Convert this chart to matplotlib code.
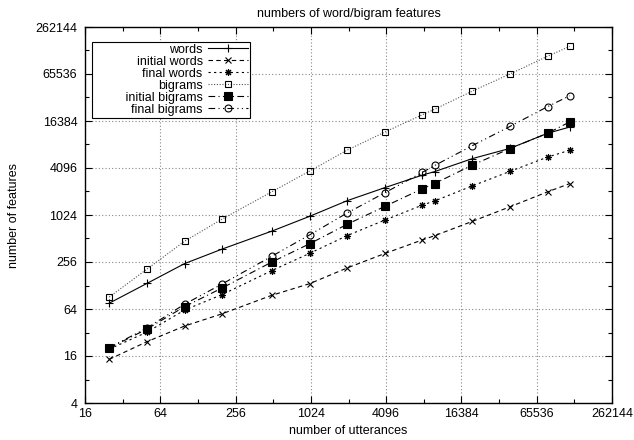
import matplotlib
matplotlib.use("Agg")
import matplotlib.pyplot as plt
from matplotlib.ticker import FixedLocator, NullFormatter

plt.rcParams['font.family'] = ['Liberation Sans', 'DejaVu Sans']

# number of utterances (shared by all series)
utterances = [25, 50, 100, 200, 500, 1000, 2000, 4000, 8000, 10000,
              20000, 40000, 80000, 120000]

words = [76, 136, 244, 375, 637, 984, 1563, 2295, 3327, 3681,
         5398, 7300, 11400, 13700]
initial_words = [14.5, 24.4, 38.7, 55.6, 96, 135, 215, 329, 492, 556,
                 848, 1303, 2028, 2580]
final_words = [19.6, 32.3, 62, 98, 199, 330, 558, 882, 1374, 1550,
               2414, 3705, 5650, 6910]
bigrams = [91, 207, 472, 908, 2035, 3740, 6940, 11830, 19760, 23170,
           39520, 65536, 110500, 147900]
initial_bigrams = [20.2, 35.4, 68.6, 119, 256, 438, 779, 1320, 2226, 2589,
                   4457, 7260, 11410, 15900]
final_bigrams = [20.5, 36.5, 73.7, 134, 304, 569, 1088, 1973, 3608, 4410,
                 7908, 13950, 24990, 34450]

x_major = [16, 64, 256, 1024, 4096, 16384, 65536, 262144]
y_major = [4, 16, 64, 256, 1024, 4096, 16384, 65536, 262144]

fig = plt.figure(figsize=(6.34, 4.40), dpi=100)
ax = fig.add_axes([85 / 634, 1 - 403 / 440, 527 / 634, 376 / 440])

lw = 0.8
ms = 5
ax.plot(utterances, words, color='black', lw=lw, ls='-', marker='+',
        ms=ms + 1, mew=lw, label='words')
ax.plot(utterances, initial_words, color='black', lw=lw, ls=(0, (4, 3)),
        marker='x', ms=ms, mew=lw, label='initial words')
ax.plot(utterances, final_words, color='black', lw=lw, ls=(0, (2, 3)),
        marker=(8, 2, 0), ms=ms, mew=lw, label='final words')
ax.plot(utterances, bigrams, color='#555555', lw=lw, ls=(0, (1, 1.5)),
        marker='s', ms=ms, mew=lw, mfc='none', mec='black', label='bigrams')
ax.plot(utterances, initial_bigrams, color='black', lw=lw, ls=(0, (6, 3, 1, 3)),
        marker='s', ms=ms + 0.5, mew=lw, mfc='black', label='initial bigrams')
ax.plot(utterances, final_bigrams, color='black', lw=lw,
        ls=(0, (6, 3, 1, 3, 1, 3)), marker='o', ms=ms, mew=lw, mfc='none',
        label='final bigrams')

ax.set_xscale('log', base=2)
ax.set_yscale('log', base=2)
ax.set_xlim(16, 262144)
ax.set_ylim(4, 262144)

ax.xaxis.set_major_locator(FixedLocator(x_major))
ax.yaxis.set_major_locator(FixedLocator(y_major))
ax.xaxis.set_minor_locator(FixedLocator([v * 2 for v in x_major[:-1]]))
ax.yaxis.set_minor_locator(FixedLocator([v * 2 for v in y_major[:-1]]))
ax.set_xticklabels([str(v) for v in x_major])
ax.set_yticklabels([str(v) for v in y_major])
ax.xaxis.set_minor_formatter(NullFormatter())
ax.yaxis.set_minor_formatter(NullFormatter())

ax.tick_params(which='both', direction='in', top=True, right=True,
               labelsize=9, width=0.8)
ax.tick_params(axis='x', which='both', pad=3.5)
ax.tick_params(axis='y', which='both', pad=5.5)
ax.tick_params(which='major', length=5)
ax.tick_params(which='minor', length=3)
for s in ax.spines.values():
    s.set_linewidth(1.0)

ax.grid(True, which='major', color='#888888', ls=(0, (1, 2)), lw=0.8)

ax.set_title('numbers of word/bigram features', fontsize=9, pad=7)
ax.set_xlabel('number of utterances', fontsize=9, labelpad=4)
ax.set_ylabel('number of features', fontsize=9, labelpad=11)

# gnuplot-style key: labels right-aligned against the samples, wide left margin
handles, labels = ax.get_legend_handles_labels()
labels[4] = ' ' * 9 + labels[4]
leg = ax.legend(handles, labels, loc='upper left',
                bbox_to_anchor=(7 / 527, 1 - 15 / 376), borderaxespad=0,
                fontsize=9, markerfirst=False, handlelength=3.2,
                handletextpad=0.4, labelspacing=0.0, borderpad=0.15,
                fancybox=False, framealpha=1, edgecolor='black')
leg.get_frame().set_linewidth(0.8)

fig.savefig('out.png', dpi=100)
